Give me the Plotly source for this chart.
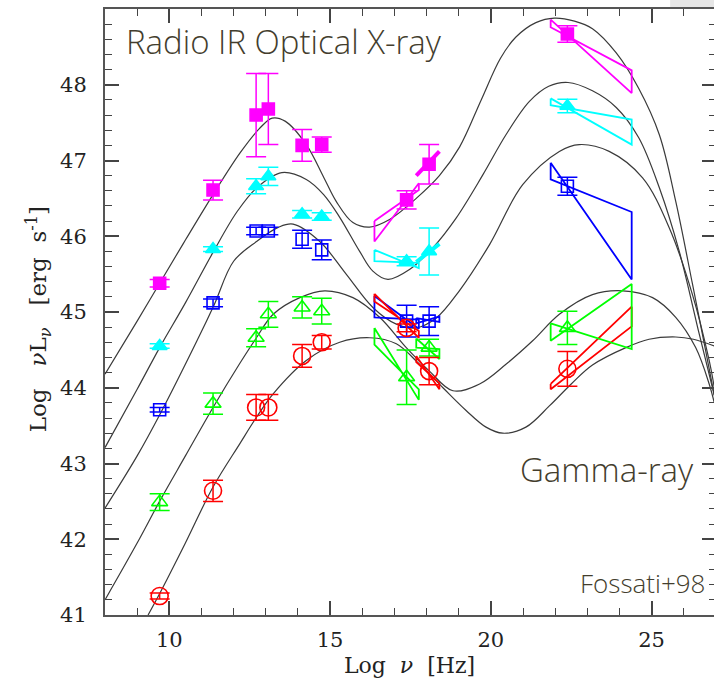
import plotly.graph_objects as go

# ---- synchrotron + inverse-Compton model curves of the blazar sequence ----
seq1_x = [8.0, 9.0, 9.7, 10.5, 11.36, 12.2, 12.8, 13.2, 13.6, 14.26, 14.8, 15.19, 15.71, 16.23, 16.85,
          17.68, 18.4, 19.03, 19.7, 20.3, 20.78, 21.4, 21.98, 22.6, 23.16, 23.9, 24.6, 25.24, 25.75,
          26.27, 26.68, 26.95]
seq1_y = [44.18, 44.88, 45.38, 45.95, 46.55, 47.10, 47.42, 47.56, 47.52, 47.21, 46.78, 46.46, 46.18,
          46.12, 46.22, 46.50, 46.80, 47.18, 47.80, 48.35, 48.63, 48.82, 48.88, 48.84, 48.74, 48.42,
          47.95, 47.34, 46.46, 45.37, 44.49, 43.90]

seq2_x = [8.0, 9.0, 9.7, 10.5, 11.35, 12.1, 12.72, 13.5, 14.26, 14.8, 15.3, 15.92, 16.33, 16.8, 17.47,
          18.2, 18.92, 19.75, 20.47, 21.2, 21.8, 22.4, 23.16, 23.9, 24.6, 25.24, 25.86, 26.48, 26.95]
seq2_y = [43.21, 43.98, 44.53, 45.12, 45.78, 46.32, 46.64, 46.84, 46.75, 46.55, 46.25, 45.80, 45.54,
          45.43, 45.56, 45.85, 46.24, 46.81, 47.34, 47.78, 47.98, 48.03, 47.92, 47.70, 47.30, 46.64,
          45.80, 44.71, 43.90]

seq3_x = [8.0, 9.0, 9.71, 10.86, 11.4, 12.0, 12.71, 13.4, 13.85, 14.68, 15.5, 16.33, 17.06, 17.68,
          18.3, 19.02, 19.96, 20.99, 22.13, 22.75, 23.68, 24.72, 25.55, 26.27, 26.79, 26.95]
seq3_y = [42.41, 43.10, 43.65, 44.62, 45.10, 45.67, 45.93, 46.12, 46.16, 45.93, 45.50, 45.06, 44.84,
          44.79, 44.92, 45.28, 45.89, 46.68, 47.12, 47.21, 47.12, 46.77, 46.11, 45.23, 44.36, 44.00]

seq4_x = [8.0, 9.0, 9.71, 10.5, 11.36, 12.19, 12.71, 13.23, 14.06, 14.83, 15.71, 16.54, 17.37, 18.09,
          18.82, 19.65, 20.47, 21.3, 22.13, 23.16, 24.1, 25.03, 25.75, 26.37, 26.79, 26.95]
seq4_y = [41.20, 41.95, 42.51, 43.10, 43.74, 44.32, 44.66, 44.97, 45.19, 45.28, 45.19, 44.93, 44.53,
          44.22, 43.96, 44.05, 44.31, 44.62, 44.97, 45.23, 45.28, 45.19, 44.93, 44.53, 44.05, 43.80]

seq5_x = [9.34, 9.71, 10.5, 11.36, 12.19, 12.71, 13.23, 14.26, 15.30, 16.23, 17.06, 17.78, 18.51,
          19.23, 19.85, 20.37, 21.09, 21.82, 22.5, 23.16, 24.2, 24.92, 25.75, 26.3, 26.95]
seq5_y = [41.00, 41.29, 41.95, 42.69, 43.26, 43.61, 43.92, 44.36, 44.60, 44.66, 44.58, 44.31, 44.00,
          43.70, 43.48, 43.40, 43.48, 43.76, 44.05, 44.30, 44.53, 44.64, 44.67, 44.64, 44.55]

# ---- averaged photometry per luminosity bin ----
band_nu = [9.7, 11.36, 12.7, 13.08, 14.13, 14.74, 17.38, 18.08, 22.38]

mag_y = [45.38, 46.61, 47.60, 47.68, 47.20, 47.21, 46.48, 46.95, 48.67]
mag_e = [0.05, 0.13, 0.55, 0.47, 0.21, 0.10, 0.12, 0.26, 0.11]

cyan_y = [44.55, 45.83, 46.66, 46.79, 46.29, 46.26, 45.67, 45.80, 47.72]
cyan_e = [0.03, 0.03, 0.10, 0.12, 0.05, 0.05, 0.06, 0.31, 0.09]

blue_y = [43.71, 45.12, 46.07, 46.07, 45.96, 45.82, 44.88, 44.88, 46.66]
blue_e = [0.03, 0.05, 0.05, 0.05, 0.12, 0.13, 0.21, 0.19, 0.12]

green_y = [42.49, 43.79, 44.66, 44.97, 45.06, 45.01, 44.14, 44.53, 44.79]
green_e = [0.11, 0.14, 0.12, 0.17, 0.14, 0.17, 0.36, 0.11, 0.22]

red_y = [41.25, 42.64, 43.74, 43.74, 44.42, 44.60, 44.79, 44.22, 44.25]
red_e = [0.04, 0.14, 0.17, 0.17, 0.15, 0.09, 0.05, 0.18, 0.23]

# ---- spectral bowties: [x_left, x_right], line A (left, right), line B (right, left) ----
soft_x = [16.38, 17.76]
hard_x = [17.68, 18.40]
egret_x = [21.86, 24.38]

mag_soft = [46.20, 46.61, 46.70, 45.93]
cyan_soft = [45.82, 45.58, 45.65, 45.67]
blue_soft = [45.21, 44.78, 44.90, 44.93]
green_soft = [44.79, 43.84, 43.98, 44.57]
red_soft = [45.24, 44.66, 44.75, 45.14]

mag_hard = [46.80, 47.12]
cyan_hard = [45.66, 45.90]
blue_hard = [44.92, 44.87, 44.94, 44.85]
green_hard = [44.65, 44.38, 44.51, 44.53]
red_hard = [44.42, 43.98, 44.06, 44.34]

mag_gamma = [48.86, 47.89, 48.19, 48.76]
cyan_gamma = [47.82, 47.21, 47.54, 47.73]
blue_gamma = [46.97, 45.43, 46.32, 46.75]
green_gamma = [44.85, 44.51, 45.37, 44.62]
red_gamma = [44.05, 45.07, 44.81, 43.98]

MAG, CYAN, BLUE, GREEN, RED = "#ff00ff", "#00ffff", "#0000ff", "#00ff00", "#ff0000"
CURVE = "#3a3a3a"

fig = go.Figure()

for cx, cy in [(seq1_x, seq1_y), (seq2_x, seq2_y), (seq3_x, seq3_y), (seq4_x, seq4_y), (seq5_x, seq5_y)]:
    fig.add_trace(go.Scatter(x=cx, y=cy, mode="lines", showlegend=False, hoverinfo="skip",
                             line=dict(color=CURVE, width=1.2, shape="spline", smoothing=1.0)))


def bowtie(xr, ys, color, width=1.8):
    # left-top -> right (line A) -> right (line B) -> left (line B) -> close
    xs = [xr[0], xr[1], xr[1], xr[0], xr[0]]
    yy = [ys[0], ys[1], ys[2], ys[3], ys[0]]
    fig.add_trace(go.Scatter(x=xs, y=yy, mode="lines", showlegend=False, hoverinfo="skip",
                             line=dict(color=color, width=width)))


for xr, ys, col in [(soft_x, mag_soft, MAG), (soft_x, cyan_soft, CYAN), (soft_x, blue_soft, BLUE),
                    (soft_x, red_soft, RED), (soft_x, green_soft, GREEN),
                    (hard_x, blue_hard, BLUE), (hard_x, green_hard, GREEN), (hard_x, red_hard, RED),
                    (egret_x, mag_gamma, MAG), (egret_x, cyan_gamma, CYAN), (egret_x, blue_gamma, BLUE),
                    (egret_x, red_gamma, RED), (egret_x, green_gamma, GREEN)]:
    bowtie(xr, ys, col)

for ys, col in [(mag_hard, MAG), (cyan_hard, CYAN)]:
    fig.add_trace(go.Scatter(x=hard_x, y=ys, mode="lines", showlegend=False, hoverinfo="skip",
                             line=dict(color=col, width=4)))


def points(yv, ev, color, symbol, size):
    fig.add_trace(go.Scatter(
        x=band_nu, y=yv, mode="markers", showlegend=False, cliponaxis=False,
        marker=dict(symbol=symbol, size=size, color=color, line=dict(color=color, width=1.6)),
        error_y=dict(type="data", array=ev, visible=True, color=color, thickness=1.5, width=10)))


points(mag_y, mag_e, MAG, "square", 12)
points(cyan_y, cyan_e, CYAN, "triangle-up", 13)
points(blue_y, blue_e, BLUE, "square-open", 12)
points(green_y, green_e, GREEN, "triangle-up-open", 14)
points(red_y, red_e, RED, "circle-open", 17)

# right-hand frame ticks
fig.add_trace(go.Scatter(x=[], y=[], yaxis="y2", showlegend=False))

TICK = "#444444"
serif = dict(family="DejaVu Serif", size=21, color="#222222")
title_font = dict(family="DejaVu Serif", size=22, color="#222222")

fig.update_layout(
    width=714, height=681,
    margin=dict(l=105, r=0, t=9, b=66),
    paper_bgcolor="white", plot_bgcolor="white",
    xaxis=dict(range=[8, 26.94], tick0=0, dtick=5, ticks="inside", ticklen=14, tickwidth=1.5,
               tickcolor=TICK, showline=True, linecolor="#555555", linewidth=2, mirror="ticks",
               showgrid=False, zeroline=False, tickfont=serif, ticklabelstandoff=5,
               minor=dict(ticks="inside", ticklen=7, tickwidth=1.3, tickcolor=TICK, dtick=1, tick0=0,
                          showgrid=False),
               title=dict(text="Log\u00a0\u00a0<i>ν</i>\u00a0\u00a0[Hz]", font=title_font, standoff=6)),
    yaxis=dict(range=[41, 49], tick0=0, dtick=1, ticks="inside", ticklen=14, tickwidth=1.5,
               tickcolor=TICK, showline=True, linecolor="#555555", linewidth=2, mirror=False,
               showgrid=False, zeroline=False, tickfont=serif, ticklabelstandoff=12,
               minor=dict(ticks="inside", ticklen=7, tickwidth=1.3, tickcolor=TICK, dtick=0.2, tick0=0,
                          showgrid=False)),
    yaxis2=dict(range=[41, 49], overlaying="y", side="right", tick0=0, dtick=1, ticks="inside",
                ticklen=12, tickwidth=1.5, tickcolor=TICK, showticklabels=False, showline=False,
                showgrid=False, zeroline=False,
                minor=dict(ticks="inside", ticklen=5, tickwidth=1.3, tickcolor=TICK, dtick=0.2, tick0=0,
                           showgrid=False)),
    shapes=[dict(type="rect", xref="paper", yref="paper", x0=0.928, x1=1.0, y0=1.0035, y1=1.02,
                 fillcolor="#e6e6e6", line=dict(width=0), layer="above")],
)

# vertical axis title
fig.add_annotation(
    text="Log\u00a0\u00a0\u00a0<i>ν</i>L<sub><i>ν</i></sub>\u00a0\u00a0\u00a0[erg\u00a0\u00a0s<sup>-1</sup>]",
    xref="paper", yref="paper", x=-0.11, y=0.488, xanchor="center", yanchor="middle",
    textangle=-90, showarrow=False, font=dict(family="DejaVu Serif", size=23, color="#222222"))

TEXT = "#433d2d"
label_font = dict(family="Open Sans", size=33, color=TEXT, weight=300)
fig.add_annotation(text="Radio IR Optical X-ray", xref="paper", yref="paper", x=0.031, y=0.946,
                   xanchor="left", yanchor="middle", showarrow=False, font=label_font)
fig.add_annotation(text="Gamma-ray", xref="paper", yref="paper", x=0.970, y=0.240,
                   xanchor="right", yanchor="middle", showarrow=False, font=label_font)
fig.add_annotation(text="Fossati+98", xref="paper", yref="paper", x=0.988, y=0.052,
                   xanchor="right", yanchor="middle", showarrow=False,
                   font=dict(family="Open Sans", size=26, color=TEXT, weight=300))

fig.write_html("out.html")
